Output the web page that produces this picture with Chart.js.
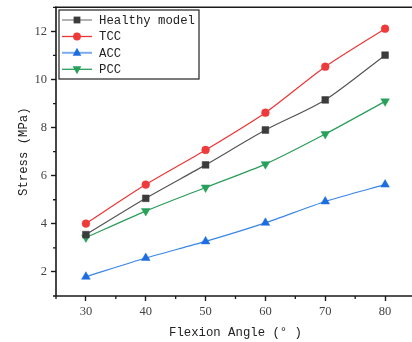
<!DOCTYPE html>
<html><head><meta charset="utf-8">
<script src="https://cdn.jsdelivr.net/npm/chart.js@4/dist/chart.umd.min.js"></script>
<style>
html,body{margin:0;padding:0;background:#fff;overflow:hidden;width:412px;height:342px;}
#wrap{width:422px;height:342px;}
</style></head><body>
<div id="wrap"><canvas id="c" width="422" height="342"></canvas></div>
<script>
const angles = [30, 40, 50, 60, 70, 80];
const healthy = [3.55, 5.06, 6.45, 7.90, 9.15, 11.01];
const tcc = [4.01, 5.63, 7.07, 8.62, 10.53, 12.11];
const acc = [1.80, 2.58, 3.27, 4.04, 4.93, 5.63];
const pcc = [3.43, 4.53, 5.51, 6.48, 7.73, 9.09];
const seriesNames = ['Healthy model', 'TCC', 'ACC', 'PCC'];
const xTicks = [30, 40, 50, 60, 70, 80];
const yTicks = [2, 4, 6, 8, 10, 12];
const xMinor = [25, 35, 45, 55, 65, 75, 85];
const yMinor = [1, 3, 5, 7, 9, 11, 13];

const AX = '#1a1a1a';
const mono = "'Liberation Mono', monospace";
const serif = "'Liberation Serif', serif";

function pts(ys){ return angles.map((x,i)=>({x:x,y:ys[i]})); }

const styles = [
  {line:'#555555', point:'#3c3c3c', style:'rect', r:4.8, rot:0, legLine:'#888888'},
  {line:'#ee3535', point:'#ee3a3a', style:'circle', r:3.9, rot:0, legLine:'#ee3535'},
  {line:'#3a86e6', point:'#1c6ee0', style:'triangle', r:5, rot:0, legLine:'#7aaaf0'},
  {line:'#2a9d5a', point:'#27a05a', style:'triangle', r:5, rot:180, legLine:'#2a9d5a'}
];
const all = [healthy, tcc, acc, pcc];

const datasets = all.map((d,i)=>({
  label: seriesNames[i],
  data: pts(d),
  borderColor: styles[i].line,
  backgroundColor: styles[i].point,
  pointBackgroundColor: styles[i].point,
  pointBorderColor: styles[i].point,
  pointStyle: styles[i].style,
  pointRadius: styles[i].r,
  pointRotation: styles[i].rot,
  pointBorderWidth: 0.5,
  borderWidth: 1.2,
  tension: 0.25
}));

function drawMarker(ctx, st, x, y){
  ctx.save();
  ctx.fillStyle = st.point;
  ctx.translate(x,y);
  ctx.rotate(st.rot*Math.PI/180);
  ctx.beginPath();
  if(st.style==='rect'){
    const s = st.r/Math.SQRT2; ctx.rect(-s,-s,2*s,2*s);
  } else if(st.style==='circle'){
    ctx.arc(0,0,st.r,0,Math.PI*2);
  } else {
    const r = st.r;
    ctx.moveTo(0,-r);
    ctx.lineTo(r*0.866, r*0.6);
    ctx.lineTo(-r*0.866, r*0.6);
    ctx.closePath();
  }
  ctx.fill();
  ctx.restore();
}

const framePlugin = {
  id:'frame',
  afterDatasetsDraw(chart){
    const {ctx, chartArea:a, scales} = chart;
    ctx.save();
    ctx.strokeStyle = AX; ctx.lineWidth = 1.6;
    ctx.beginPath();
    ctx.moveTo(a.right, a.top); ctx.lineTo(a.left, a.top);
    ctx.moveTo(a.left, a.top-1); ctx.lineTo(a.left, a.bottom);
    ctx.lineTo(a.right, a.bottom);
    ctx.stroke();
    // minor ticks
    ctx.lineWidth = 1.3;
    ctx.beginPath();
    xMinor.forEach(v=>{ const px = scales.x.getPixelForValue(v); ctx.moveTo(px, a.bottom); ctx.lineTo(px, a.bottom+3); });
    yMinor.forEach(v=>{ const py = scales.y.getPixelForValue(v); ctx.moveTo(a.left, py); ctx.lineTo(a.left-3, py); });
    ctx.stroke();
    // legend
    const bx = 59, by = 10, bw = 140, bh = 69;
    ctx.fillStyle = '#fff';
    ctx.fillRect(bx,by,bw,bh);
    ctx.strokeStyle = '#222'; ctx.lineWidth = 1.2;
    ctx.strokeRect(bx,by,bw,bh);
    const rows = [20, 36.5, 52.8, 69.3];
    ctx.font = "12.3px " + mono;
    ctx.textBaseline = 'middle';
    chart.data.datasets.forEach((ds,i)=>{
      const y = rows[i], st = styles[i];
      ctx.strokeStyle = st.legLine; ctx.lineWidth = i===2 ? 2 : 1.3;
      ctx.beginPath(); ctx.moveTo(62,y); ctx.lineTo(92,y); ctx.stroke();
      drawMarker(ctx, st, 77, y);
      ctx.fillStyle = '#222';
      ctx.fillText(ds.label, 99, y+0.5);
    });
    ctx.restore();
  }
};

function zeroPad(s){ s.paddingTop = 0; s.paddingBottom = 0; s.paddingLeft = 0; s.paddingRight = 0; }

new Chart(document.getElementById('c'), {
  type:'line',
  data:{datasets},
  plugins:[framePlugin],
  options:{
    responsive:false, animation:false,
    layout:{padding:{top:7.3, right:7, left:0, bottom:0}},
    plugins:{legend:{display:false}, tooltip:{enabled:false}},
    scales:{
      x:{type:'linear', min:25, max:85,
        afterBuildTicks(s){ s.ticks = xTicks.map(v=>({value:v})); },
        afterFit(s){ s.height = 46; zeroPad(s); },
        border:{display:false},
        grid:{drawOnChartArea:false, drawTicks:true, tickLength:5, tickColor:AX, tickWidth:1.4},
        ticks:{font:{family:serif, size:12.5}, color:'#444', padding:3, maxRotation:0},
        title:{display:true, text:'Flexion Angle (° )', font:{family:mono, size:12.3}, color:'#222', padding:{top:0,bottom:2}}
      },
      y:{type:'linear', min:1, max:13,
        afterBuildTicks(s){ s.ticks = yTicks.map(v=>({value:v})); },
        afterFit(s){ s.width = 56; zeroPad(s); },
        border:{display:false},
        grid:{drawOnChartArea:false, drawTicks:true, tickLength:5, tickColor:AX, tickWidth:1.4},
        ticks:{font:{family:serif, size:12.5}, color:'#444', padding:4},
        title:{display:true, text:'Stress (MPa)', font:{family:mono, size:12.3}, color:'#222', padding:{top:16.5,bottom:0}}
      }
    }
  }
});
</script>
</body></html>
